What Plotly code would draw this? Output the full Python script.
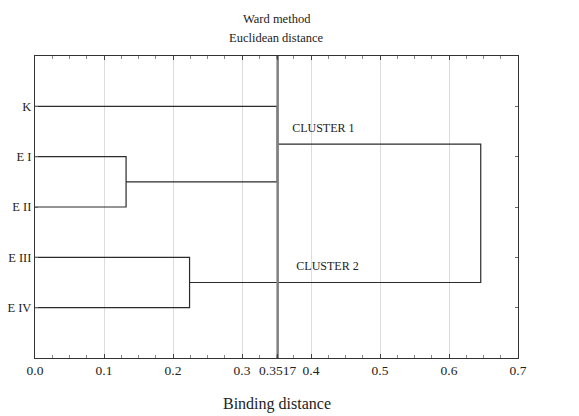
import plotly.graph_objects as go

# ---- data ----
leaves = ["K", "E I", "E II", "E III", "E IV"]
leaf_pos = [1, 2, 3, 4, 5]
# merges: (left node, right node, linkage distance); nodes 0-4 are leaves, 5+ are clusters
merge_left = [1, 3, 0, 7]
merge_right = [2, 4, 5, 6]
merge_dist = [0.132, 0.224, 0.3510, 0.646]
cut_distance = 0.3517
x_ticks = [0.0, 0.1, 0.2, 0.3, 0.3517, 0.4, 0.5, 0.6, 0.7]
x_tick_text = ["0.0", "0.1", "0.2", "0.3", "0.3517", "0.4", "0.5", "0.6", "0.7"]
cluster_names = ["CLUSTER 1", "CLUSTER 2"]

FONT = "Liberation Serif, Times New Roman, serif"

node_y = list(leaf_pos)
node_h = [0.0] * len(leaves)
fig = go.Figure()
for a, b, h in zip(merge_left, merge_right, merge_dist):
    xs = [node_h[a], h, h, node_h[b]]
    ys = [node_y[a], node_y[a], node_y[b], node_y[b]]
    fig.add_trace(go.Scatter(x=xs, y=ys, mode="lines",
                             line=dict(color="#2b2b2b", width=1.2),
                             hoverinfo="skip", showlegend=False))
    node_y.append((node_y[a] + node_y[b]) / 2)
    node_h.append(h)

# cut line
fig.add_trace(go.Scatter(x=[cut_distance, cut_distance], y=[0, 6], mode="lines",
                         line=dict(color="#808080", width=2.5),
                         hoverinfo="skip", showlegend=False))

# cluster labels
fig.add_trace(go.Scatter(x=[cut_distance + 0.021, cut_distance + 0.027],
                         y=[node_y[7] - 0.3, node_y[6] - 0.3],
                         mode="text", text=cluster_names, textposition="middle right",
                         textfont=dict(family=FONT, size=12, color="#222"),
                         hoverinfo="skip", showlegend=False))

T, B = 56, 58
plot_h = 416 - T - B
fig.update_layout(
    width=579, height=416,
    margin=dict(l=35, r=61, t=T, b=B, autoexpand=False),
    plot_bgcolor="white", paper_bgcolor="white",
    font=dict(family=FONT, size=12, color="#222"),
)
fig.add_annotation(text="Ward method", x=0.5, xref="paper", y=1 + (T - 19) / plot_h,
                   yref="paper", yanchor="middle", showarrow=False,
                   font=dict(size=12.5, family=FONT))
fig.add_annotation(text="Euclidean distance", x=0.5, xref="paper", y=1 + (T - 38) / plot_h,
                   yref="paper", yanchor="middle", showarrow=False,
                   font=dict(size=12.5, family=FONT))
fig.add_annotation(text="Binding distance", x=0.5, xref="paper",
                   y=-(404 - (416 - B)) / plot_h, yref="paper", yanchor="middle",
                   showarrow=False, font=dict(size=16, family=FONT))

fig.update_xaxes(range=[0, 0.7], tickmode="array", tickvals=x_ticks, ticktext=x_tick_text,
                 showgrid=True, gridcolor="#dcdcdc", gridwidth=1,
                 showline=True, linecolor="#333", linewidth=1.2, mirror="ticks",
                 ticks="inside", ticklen=4, tickcolor="#444", automargin=False,
                 minor=dict(tickmode="linear", tick0=0, dtick=0.025, ticks="inside",
                            ticklen=3, tickcolor="#888", showgrid=False),
                 zeroline=False, tickfont=dict(size=13.5, family=FONT))
fig.update_yaxes(range=[6, 0], tickmode="array", tickvals=leaf_pos, ticktext=leaves,
                 showgrid=False, zeroline=False, automargin=False,
                 showline=True, linecolor="#333", linewidth=1.2, mirror="ticks",
                 ticks="inside", ticklen=3, tickcolor="#666",
                 tickfont=dict(size=12.5, family=FONT))

fig.write_html("out.html")
